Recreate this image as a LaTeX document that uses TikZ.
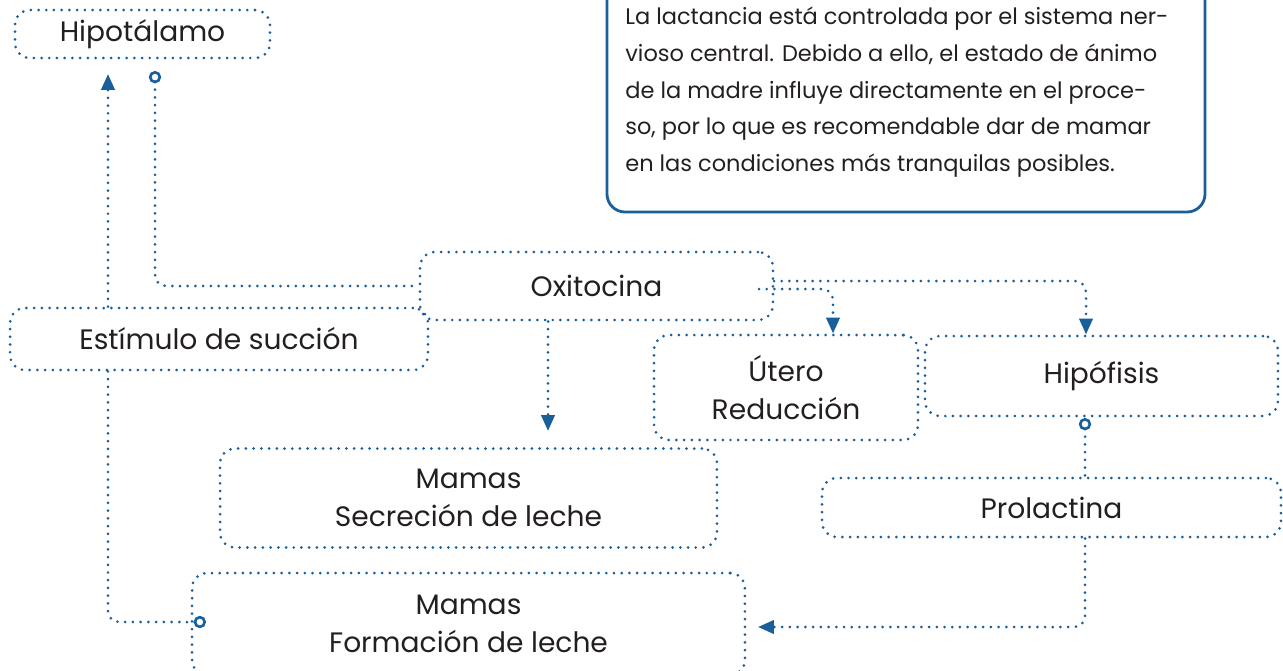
\documentclass[tikz,border=0pt]{standalone}
\usepackage{fontspec}
\setmainfont{Poppins}
\usepackage{tikz}
\usetikzlibrary{arrows.meta}
\definecolor{azul}{HTML}{1A5E9A}
\definecolor{tinta}{HTML}{231F20}
\tikzset{
  every picture/.style={line join=round, >=Stealth},
  dots/.style={azul, line width=1.7pt, line cap=round, dash pattern=on 0pt off 4.4pt},
  caja/.style={draw, dots, rounded corners=0.3cm, text=tinta, align=center,
    font=\fontsize{16}{21.5}\selectfont, inner sep=0pt},
  enlace/.style={dots, rounded corners=0.22cm},
  flecha/.style={-{Triangle[length=9pt,width=7.5pt]}},
  bola/.style={{Circle[open,length=7pt,width=7pt,line width=1.5pt]}-},
  bolafin/.style={-{Circle[open,length=7pt,width=7pt,line width=1.5pt]}},
}

\begin{document}
\begin{tikzpicture}[x=0.02cm,y=-0.02cm]
\useasboundingbox (0,0) rectangle (1283,670);
% nota
\draw[azul, line width=1.6pt, rounded corners=0.36cm] (607,-30) rectangle (1205,212);
\node[anchor=north west, inner sep=0pt, align=left, text=tinta,
  font=\fontsize{12.8}{20.8}\selectfont] (nota) at (625,7)
  {La lactancia está controlada por el sistema ner-\\
   vioso central. Debido a ello, el estado de ánimo\\
   de la madre influye directamente en el proce-\\
   so, por lo que es recomendable dar de mamar\\
   en las condiciones más tranquilas posibles.};
% cajas
\node[caja, minimum width=5.1cm, minimum height=0.96cm] (hipot) at (142.5,34) {Hipotálamo};
\node[caja, minimum width=7.06cm, minimum height=1.36cm] (oxi) at (596.5,286) {Oxitocina};
\node[caja, minimum width=8.36cm, minimum height=1.24cm] (estim) at (219,339) {Estímulo de succión};
\node[caja, minimum width=5.28cm, minimum height=2.1cm] (utero) at (786,387.5) {Útero\\Reducción};
\node[caja, minimum width=7.06cm, minimum height=1.6cm] (hipof) at (1101.5,376) {Hipófisis};
\node[caja, minimum width=9.94cm, minimum height=1.98cm] (secre) at (468.5,498) {Mamas\\Secreción de leche};
\node[caja, minimum width=9.18cm, minimum height=1.18cm] (prolac) at (1051.5,507.5) {Prolactina};
\node[caja, minimum width=11.06cm, minimum height=2.04cm] (forma) at (468.5,624) {Mamas\\Formación de leche};
% puntos de enlace
\coordinate (h1) at (108,74);
\coordinate (h2) at (155,71);
\coordinate (s1) at (548,431);
\coordinate (o1) at (774,281);
\coordinate (o2) at (759,289);
\coordinate (ux) at (833,0);
\coordinate (hx) at (1086,0);
\coordinate (p0) at (1085,418);
\coordinate (p2) at (758,627);
\coordinate (f1) at (206,622);
% enlaces
\draw[enlace,flecha] (estim.north -| h1) -- (h1);
\draw[enlace,bola] (h2) |- (oxi.west);
\draw[enlace,flecha] (oxi.south -| s1) -- (s1);
\draw[enlace,bola,flecha] (o2) -| (utero.north -| ux);
\draw[enlace,flecha] (o1) -| (hipof.north -| hx);
\draw[enlace,bola] (p0) -- (prolac.north -| p0);
\draw[enlace,flecha] (prolac.south -| p0) |- (p2);
\draw[enlace,bolafin] (estim.south -| h1) |- (f1);
\end{tikzpicture}
\end{document}
